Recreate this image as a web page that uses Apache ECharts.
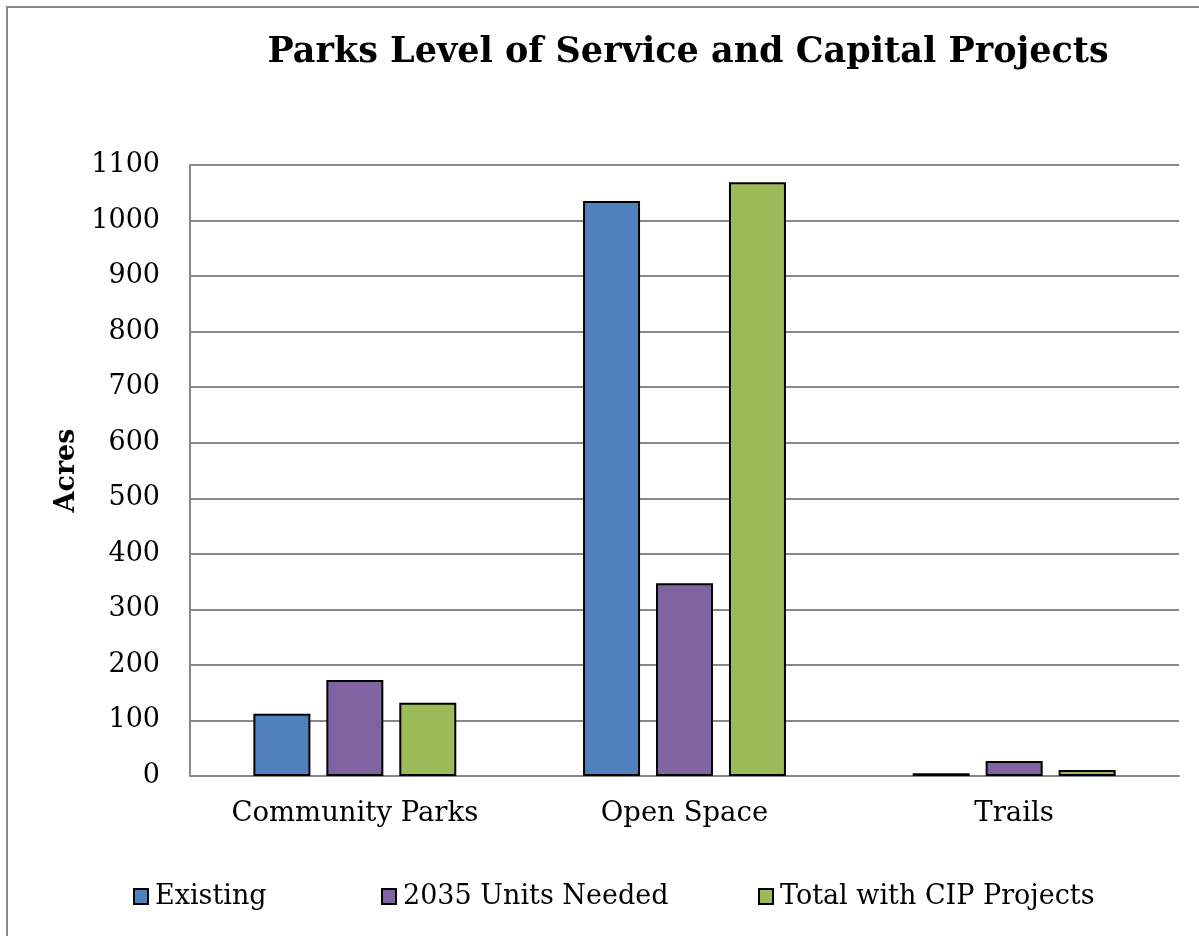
<!DOCTYPE html>
<html>
<head>
<meta charset="utf-8">
<script src="https://cdn.jsdelivr.net/npm/echarts@6/dist/echarts.min.js"></script>
<style>
html, body { margin: 0; padding: 0; background: #fff; }
#chart { width: 1199px; height: 936px; }
</style>
</head>
<body>
<div id="chart"></div>
<script>
var categories = ['Community Parks', 'Open Space', 'Trails'];
var existing = [112, 1035, 5];
var needed2035 = [173, 347, 27];
var totalCip = [132, 1069, 11];
var seriesNames = ['Existing', '2035 Units Needed', 'Total with CIP Projects'];
var colors = ['#4F81BD', '#8064A2', '#9BBB59'];

var chart = echarts.init(document.getElementById('chart'), null, {renderer: 'canvas'});
var font = 'DejaVu Serif';

function barSeries(name, data, color) {
    return {
        name: name,
        type: 'bar',
        data: data,
        barWidth: 57,
        barGap: '28%',
        itemStyle: {color: color, borderColor: '#000', borderWidth: 2}
    };
}

// one legend per item so the slots sit where Excel put them
function legendAt(name, left) {
    return {
        data: [name],
        left: left,
        top: 878,
        icon: 'rect',
        itemWidth: 14,
        itemHeight: 15,
        itemGap: 6,
        itemStyle: {borderColor: '#000', borderWidth: 2},
        textStyle: {fontFamily: font, fontSize: 27, color: '#000', padding: [0, 0, 0, 2]}
    };
}

var option = {
    backgroundColor: '#fff',
    animation: false,
    graphic: [{
        type: 'rect',
        shape: {x: 7, y: 7, width: 1300, height: 1000},
        style: {fill: 'none', stroke: '#888', lineWidth: 2},
        silent: true
    }],
    title: {
        text: 'Parks Level of Service and Capital Projects',
        left: 683,
        textAlign: 'center',
        top: 30,
        textStyle: {fontFamily: font, fontSize: 35, fontWeight: 'bold', color: '#000'}
    },
    legend: [
        legendAt(seriesNames[0], 128),
        legendAt(seriesNames[1], 376),
        legendAt(seriesNames[2], 753)
    ],
    grid: {left: 190, top: 165, right: 20, bottom: 160},
    xAxis: {
        type: 'category',
        data: categories,
        axisLine: {lineStyle: {color: '#888', width: 2}},
        axisTick: {show: false},
        axisLabel: {fontFamily: font, fontSize: 27.5, color: '#000', margin: 24}
    },
    yAxis: {
        type: 'value',
        min: 0,
        max: 1100,
        interval: 100,
        name: 'Acres',
        nameLocation: 'middle',
        nameGap: 106,
        nameRotate: 90,
        nameTextStyle: {fontFamily: font, fontSize: 27, fontWeight: 'bold', color: '#000'},
        axisLine: {show: true, lineStyle: {color: '#888', width: 2}},
        axisTick: {show: false},
        axisLabel: {
            fontFamily: font, fontSize: 27, color: '#000', margin: 30,
            formatter: function (v) { return String(v); }
        },
        splitLine: {lineStyle: {color: '#888', width: 2}}
    },
    series: [
        barSeries(seriesNames[0], existing, colors[0]),
        barSeries(seriesNames[1], needed2035, colors[1]),
        barSeries(seriesNames[2], totalCip, colors[2])
    ]
};

chart.setOption(option);
</script>
</body>
</html>
